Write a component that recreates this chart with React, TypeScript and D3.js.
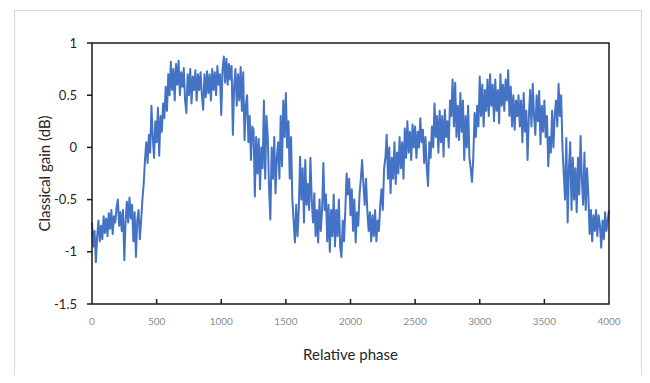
import { useRef, useEffect } from "react";
import * as d3 from "d3";

const svg_width = 650;
const svg_height = 383;

// plot area, in page pixels
const left = 92;
const right = 609;
const top = 43;
const bottom = 304;

const x_ticks = [0, 500, 1000, 1500, 2000, 2500, 3000, 3500, 4000];
const y_ticks = [1, 0.5, 0, -0.5, -1, -1.5];

const phase_step = 10;

// classical gain (dB), one value every 10 units of relative phase
const gain = [
    -0.72, -0.95, -0.8, -1.1, -0.85, -0.7, -0.9, -0.75, -0.88, -0.66,
    -0.82, -0.68, -0.85, -0.63, -0.78, -0.6, -0.83, -0.66, -0.72, -0.58,
    -0.5, -0.75, -0.62, -0.8, -0.6, -1.08, -0.7, -0.52, -0.72, -0.48,
    -0.68, -0.55, -0.9, -0.62, -1.05, -0.7, -0.6, -0.88, -0.7, -0.5,
    -0.35, -0.12, 0.05, -0.15, 0.12, -0.05, 0.4, 0.1, -0.1, 0.25,
    0.05, 0.38, -0.08, 0.3, 0.15, 0.42, 0.28, 0.58, 0.35, 0.7,
    0.5, 0.82, 0.55, 0.75, 0.45, 0.8, 0.6, 0.83, 0.5, 0.72,
    0.58, 0.76, 0.45, 0.33, 0.7, 0.5, 0.75, 0.42, 0.68, 0.55,
    0.74, 0.45, 0.7, 0.55, 0.72, 0.5, 0.36, 0.7, 0.48, 0.73,
    0.52, 0.7, 0.45, 0.75, 0.55, 0.72, 0.5, 0.78, 0.6, 0.7,
    0.31, 0.75, 0.87, 0.62, 0.85, 0.6, 0.8, 0.65, 0.78, 0.12,
    0.6, 0.75, 0.4, 0.7, 0.45, 0.77, 0.35, 0.72, 0.07, 0.4,
    0.5, 0.05, 0.3, -0.12, 0.2, 0.17, -0.47, 0.1, -0.25, 0.08,
    -0.4, 0.0, -0.2, 0.45, -0.3, 0.3, 0.1, -0.4, -0.69, 0.0,
    -0.3, 0.1, -0.44, -0.1, 0.05, -0.3, 0.3, -0.18, 0.45, 0.1,
    0.52, 0.0, 0.25, -0.3, 0.1, -0.5, -0.7, -0.91, -0.55, -0.85,
    -0.6, -0.09, -0.5, -0.2, -0.72, -0.12, -0.55, -0.35, -0.6, -0.1,
    -0.5, -0.72, -0.44, -0.85, -0.6, -0.91, -0.5, -0.8, -0.6, -0.15,
    -0.6, -0.45, -0.9, -0.55, -1.0, -0.6, -0.85, -0.45, -0.95, -0.6,
    -0.85, -0.5, -0.95, -1.05, -0.7, -0.9, -0.6, -0.25, -0.45, -0.3,
    -0.65, -0.4, -0.8, -0.5, -0.91, -0.62, -0.75, -0.45, -0.3, -0.12,
    -0.35, -0.55, -0.3, -0.6, -0.8, -0.62, -0.9, -0.65, -0.85, -0.6,
    -0.9, -0.7, -0.8, -0.55, -0.4, -0.6, -0.2, -0.1, 0.12, -0.3,
    0.0, -0.44, -0.1, -0.3, 0.05, -0.35, -0.05, -0.25, 0.1, -0.2,
    0.05, -0.3, 0.18, -0.1, 0.25, -0.05, 0.15, -0.12, 0.22, 0.0,
    0.2, -0.1, 0.15, 0.0, 0.28, 0.05, 0.17, -0.15, 0.1, -0.2,
    -0.37, 0.05, -0.1, 0.2, 0.0, 0.42, 0.1, 0.3, -0.05, 0.35,
    0.05, 0.3, -0.09, 0.36, 0.1, 0.25, 0.0, 0.45, 0.3, 0.65,
    0.2, 0.62, 0.1, 0.4, 0.07, 0.52, 0.15, 0.45, -0.12, 0.3,
    0.0, 0.4, -0.1, -0.2, -0.33, -0.1, 0.33, 0.1, 0.4, 0.2,
    0.68, 0.3, 0.6, 0.2, 0.55, 0.35, 0.65, 0.3, 0.7, 0.4,
    0.6, 0.25, 0.65, 0.35, 0.55, 0.23, 0.7, 0.4, 0.6, 0.35,
    0.65, 0.45, 0.74, 0.3, 0.58, 0.2, 0.5, 0.17, 0.45, 0.3,
    0.5, 0.2, 0.45, 0.05, 0.52, 0.15, 0.35, -0.12, 0.3, 0.55,
    0.2, 0.61, 0.3, 0.12, 0.5, 0.25, 0.54, 0.03, 0.4, 0.15,
    0.45, 0.1, 0.3, -0.18, 0.1, -0.05, 0.35, 0.0, 0.3, 0.45,
    0.2, 0.61, 0.3, 0.5, 0.0, -0.25, -0.5, 0.09, -0.72, -0.2,
    0.05, -0.6, -0.1, -0.5, -0.2, -0.62, -0.1, -0.45, 0.11, -0.3,
    -0.55, -0.05, -0.6, -0.2, -0.45, -0.83, -0.6, -0.9, -0.65, -0.8,
    -0.6, -0.85, -0.65, -0.75, -0.96, -0.7, -0.88, -0.62, -0.8, -0.7,
    -0.6,
];

const font = "Lato, 'Open Sans', sans-serif";

export default function App() {
    const ref = useRef(null);

    useEffect(() => {
        const destroy = () => {
            d3.select(ref.current).selectAll("*").remove();
        };

        const x = d3.scaleLinear()
            .domain([0, 4000])
            .range([left, right]);

        const y = d3.scaleLinear()
            .domain([-1.5, 1])
            .range([bottom, top]);

        const svg = d3.select(ref.current)
            .append("svg")
                .attr("width", svg_width)
                .attr("height", svg_height)
                .style("display", "block")
                .style("background-color", "white");

        // chart area border
        svg.append("rect")
            .attr("x", 14.5)
            .attr("y", 10.5)
            .attr("width", 627)
            .attr("height", 390)
            .attr("fill", "white")
            .attr("stroke", "#d9d9d9");

        const line = d3.line<number>()
            .x((d, i) => x(i * phase_step))
            .y(d => y(d));

        svg.append("path")
            .datum(gain)
            .attr("fill", "none")
            .attr("stroke", "#4472c4")
            .attr("stroke-width", 2)
            .attr("stroke-linejoin", "round")
            .attr("d", line);

        // plot frame
        svg.append("rect")
            .attr("x", left)
            .attr("y", top)
            .attr("width", right - left)
            .attr("height", bottom - top)
            .attr("fill", "none")
            .attr("stroke", "#1a1a1a")
            .attr("stroke-width", 1.5);

        // x ticks point up into the plot
        svg.append("g")
            .selectAll("line")
            .data(x_ticks.slice(1, -1))
            .join("line")
                .attr("x1", d => x(d))
                .attr("x2", d => x(d))
                .attr("y1", bottom)
                .attr("y2", bottom - 5)
                .attr("stroke", "#1a1a1a")
                .attr("stroke-width", 1.5);

        svg.append("g")
            .selectAll("text")
            .data(x_ticks)
            .join("text")
                .attr("x", d => x(d))
                .attr("y", 325)
                .attr("text-anchor", "middle")
                .attr("font-family", font)
                .attr("font-size", 10)
                .attr("fill", "#8c8c8c")
                .text(d => d);

        // y ticks point left, outside
        svg.append("g")
            .selectAll("line")
            .data(y_ticks)
            .join("line")
                .attr("x1", left - 5)
                .attr("x2", left)
                .attr("y1", d => y(d))
                .attr("y2", d => y(d))
                .attr("stroke", "#1a1a1a")
                .attr("stroke-width", 1.5);

        svg.append("g")
            .selectAll("text")
            .data(y_ticks)
            .join("text")
                .attr("x", 77)
                .attr("y", d => y(d))
                .attr("dy", "0.35em")
                .attr("text-anchor", "end")
                .attr("font-family", font)
                .attr("font-size", 13)
                .attr("fill", "#262626")
                .text(d => d);

        svg.append("text")
            .attr("x", (left + right) / 2)
            .attr("y", 360)
            .attr("text-anchor", "middle")
            .attr("font-family", font)
            .attr("font-size", 15)
            .attr("fill", "#262626")
            .text("Relative phase");

        svg.append("text")
            .attr("transform", `translate(45, ${(top + bottom) / 2}) rotate(-90)`)
            .attr("dy", "0.35em")
            .attr("text-anchor", "middle")
            .attr("font-family", font)
            .attr("font-size", 15)
            .attr("fill", "#262626")
            .text("Classical gain (dB)");

        return destroy;
    }, [ref]);

    return (
        <div ref={ref} style={{ margin: -8 }} />
    );
}
